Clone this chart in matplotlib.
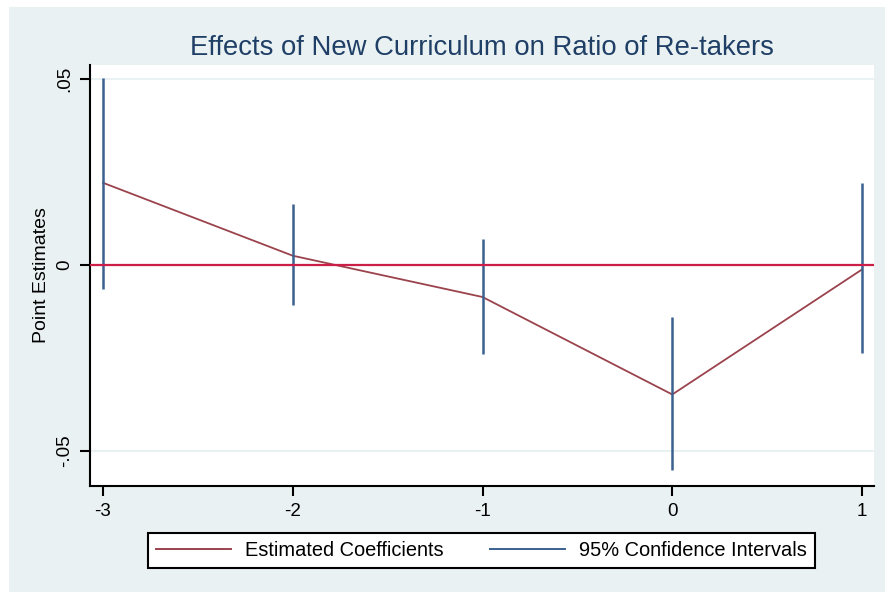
import matplotlib
matplotlib.use("Agg")
import matplotlib.pyplot as plt
from matplotlib.lines import Line2D
from matplotlib.patches import Rectangle

plt.rcParams['font.family'] = ['Liberation Sans', 'DejaVu Sans']

# Event-time estimates with 95% confidence bounds
periods = [-3, -2, -1, 0, 1]
coef = [0.0221, 0.0025, -0.0086, -0.0348, -0.0012]
ci_low = [-0.0064, -0.0108, -0.0238, -0.0550, -0.0236]
ci_high = [0.0502, 0.0165, 0.0070, -0.0139, 0.0220]

x_ticks = [-3, -2, -1, 0, 1]
y_ticks = [-0.05, 0, 0.05]
y_tick_labels = ["-.05", "0", ".05"]

title = "Effects of New Curriculum on Ratio of Re-takers"
y_label = "Point Estimates"
legend_labels = ["Estimated Coefficients", "95% Confidence Intervals"]

W, H = 885, 592
bg = "#eaf1f3"
navy = "#3a6190"
cranberry = "#9b434c"
zero_red = "#cc1f48"

fig = plt.figure(figsize=(W / 100, H / 100), dpi=100)
fig.patch.set_facecolor("white")
fig.patches.append(Rectangle((9 / W, 0), 1 - 9 / W, 1 - 7 / H,
                             transform=fig.transFigure, facecolor=bg,
                             edgecolor="none", zorder=-10))

ax = fig.add_axes([90 / W, 1 - 486 / H, 784 / W, 421 / H])
ax.set_facecolor("white")

for yv in y_ticks:
    ax.axhline(yv, color=bg, lw=1.5, zorder=1)

ax.plot(periods, coef, color=cranberry, lw=1.3, zorder=3)
ax.vlines(periods, ci_low, ci_high, color=navy, lw=1.8, zorder=4)
ax.axhline(0, color=zero_red, lw=1.6, zorder=5)

ax.set_xlim(-3.0685, 1.0632)
ax.set_ylim(-0.0594, 0.05376)
ax.set_xticks(x_ticks)
ax.set_xticklabels([str(v) for v in x_ticks])
ax.set_yticks(y_ticks)
ax.set_yticklabels(y_tick_labels, rotation=90, va="center")

for s in ["top", "right"]:
    ax.spines[s].set_visible(False)
for s in ["left", "bottom"]:
    ax.spines[s].set_color("black")
    ax.spines[s].set_linewidth(1.5)

ax.tick_params(axis="both", direction="out", length=7, width=1.5,
               color="black", labelsize=13.5, labelcolor="black")
ax.tick_params(axis="y", pad=5)
ax.tick_params(axis="x", pad=5)

fig.text(42 / W, 1 - 275 / H, y_label, rotation=90, ha="center",
         va="center", fontsize=14, color="black")
fig.text(482 / W, 1 - 55 / H, title, ha="center", va="baseline",
         fontsize=19.8, color="#1f3f66")

handles = [Line2D([], [], color=cranberry, lw=1.4),
           Line2D([], [], color=navy, lw=1.4)]
leg = fig.legend(handles, legend_labels, loc="center",
                 bbox_to_anchor=(481.5 / W, 1 - 550.5 / H), ncol=2,
                 fontsize=14.4, frameon=True, fancybox=False,
                 edgecolor="black", facecolor="white", framealpha=1,
                 handlelength=3.75, handletextpad=0.7, columnspacing=2.3,
                 borderpad=0.42, borderaxespad=0)
leg.get_frame().set_linewidth(1.5)

fig.savefig("out.png", dpi=100, facecolor=fig.get_facecolor())
